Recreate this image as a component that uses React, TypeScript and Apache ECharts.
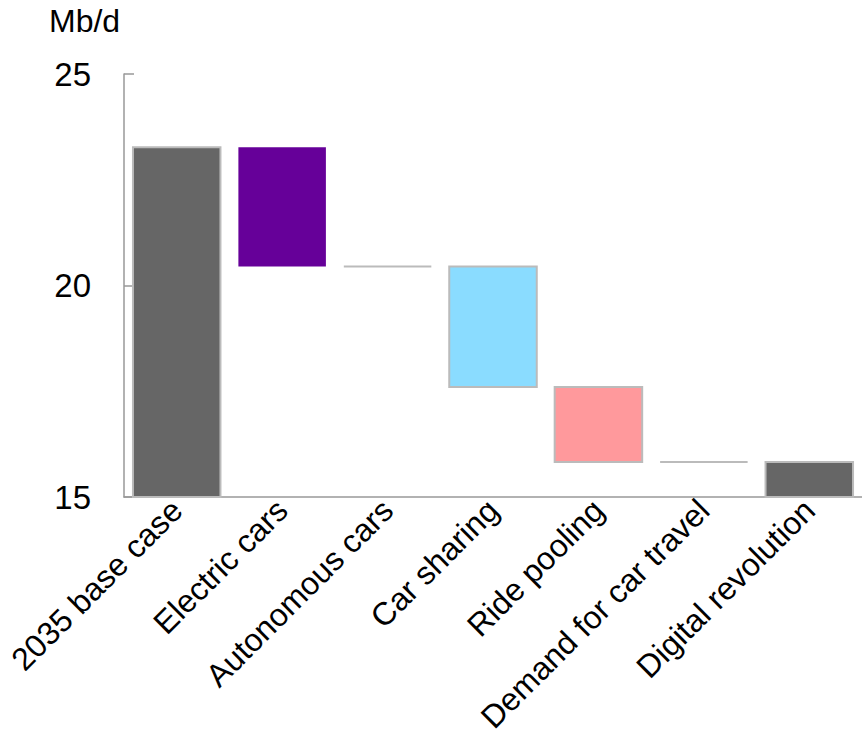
import React, { useEffect, useRef } from "react";
import * as echarts from "echarts";

const categories = [
  "2035 base case",
  "Electric cars",
  "Autonomous cars",
  "Car sharing",
  "Ride pooling",
  "Demand for car travel",
  "Digital revolution",
];
// [low, high] of each waterfall step (Mb/d)
const lows = [15, 20.45, 20.45, 17.6, 15.83, 15.83, 15];
const highs = [23.27, 23.27, 20.45, 20.45, 17.6, 15.83, 15.83];
const colors = ["#666666", "#660099", "#bbbbbb", "#8adcff", "#ff999c", "#bbbbbb", "#666666"];
const borders = ["#bbbbbb", null, null, "#bbbbbb", "#bbbbbb", null, "#bbbbbb"];
const yTicks = [15, 20, 25];

const FONT = "Liberation Sans, Arial, sans-serif";

export default function App() {
  const ref = useRef<HTMLDivElement>(null);
  useEffect(() => {
    const chart = echarts.init(ref.current!, null, { renderer: "svg" });
    const data = categories.map((c, i) => [i, lows[i], highs[i]]);
    chart.setOption({
      animation: false,
      grid: { left: 124, right: 0, top: 74, bottom: 256, containLabel: false },
      graphic: [
        {
          type: "text",
          left: 49,
          top: 5,
          style: { text: "Mb/d", fontSize: 32, fontFamily: FONT, fill: "#000" },
        },
      ],
      xAxis: {
        type: "category",
        data: categories,
        boundaryGap: true,
        axisLine: { lineStyle: { color: "#999999", width: 1.5 } },
        axisTick: { inside: true, length: 10, alignWithLabel: false, lineStyle: { color: "#999999", width: 1.5 } },
        axisLabel: {
          rotate: 45,
          interval: 0,
          fontSize: 32,
          fontFamily: FONT,
          color: "#000",
          margin: 8,
        },
      },
      yAxis: {
        type: "value",
        min: yTicks[0],
        max: yTicks[yTicks.length - 1],
        interval: 5,
        splitLine: { show: false },
        axisLine: { show: true, lineStyle: { color: "#999999", width: 1.5 } },
        axisTick: { show: true, inside: true, length: 10, lineStyle: { color: "#999999", width: 1.5 } },
        axisLabel: { fontSize: 33, fontFamily: FONT, color: "#000", margin: 33 },
      },
      series: [
        {
          type: "custom",
          data,
          encode: { x: 0, y: [1, 2] },
          renderItem: (params: any, api: any) => {
            const i = api.value(0);
            const lo = api.value(1);
            const hi = api.value(2);
            const size = api.size([1, 0]);
            const w = size[0] * 0.83;
            const p1 = api.coord([i, hi]);
            const p0 = api.coord([i, lo]);
            const x = p1[0] - w / 2;
            if (hi - lo < 0.001) {
              return {
                type: "line",
                shape: { x1: x, y1: p1[1], x2: x + w, y2: p1[1] },
                style: { stroke: colors[i], lineWidth: 2 },
              };
            }
            const b = borders[i];
            return {
              type: "rect",
              shape: { x, y: p1[1], width: w, height: p0[1] - p1[1] },
              style: {
                fill: colors[i],
                stroke: b || "none",
                lineWidth: b ? 2 : 0,
              },
            };
          },
        },
      ],
    });
    return () => chart.dispose();
  }, []);
  return <div ref={ref} style={{ width: 862, height: 753, position: "absolute", left: 0, top: 0 }} />;
}
